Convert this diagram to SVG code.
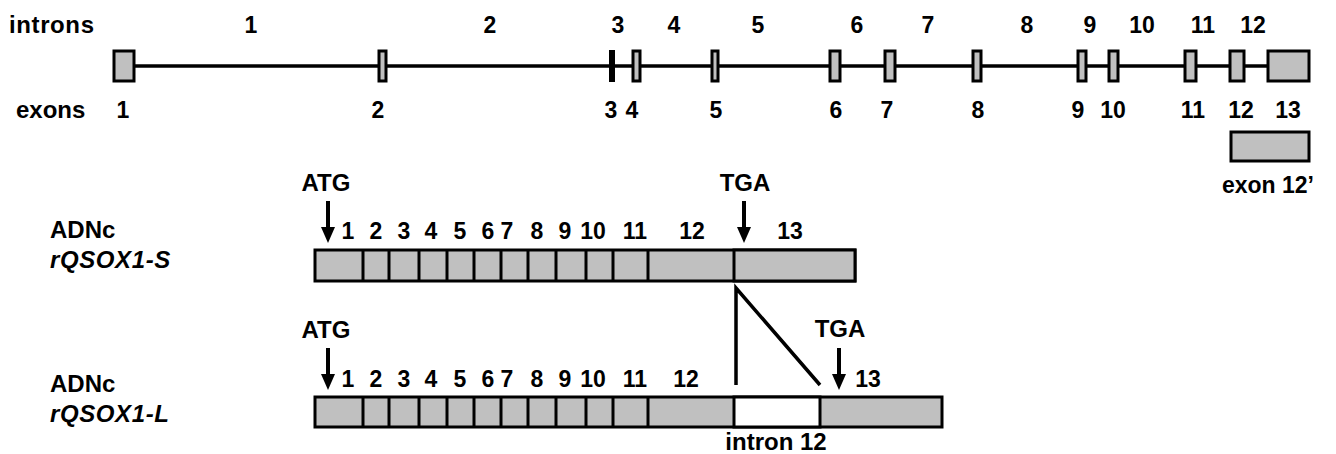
<svg xmlns="http://www.w3.org/2000/svg" width="1336" height="454" viewBox="0 0 1336 454">
<style>
text{font-family:"Liberation Sans",Arial,sans-serif;font-weight:bold;font-size:23px;fill:#000}
.wd{font-size:24px}
.c{text-anchor:middle}
.i{font-style:italic;letter-spacing:0.6px}
.ex{fill:#c0c0c0;stroke:#000;stroke-width:3}
.w{fill:#fff;stroke:#000;stroke-width:3}
.ln{stroke:#000;stroke-width:3;fill:none}
.gl{stroke:#000;stroke-width:3.5;fill:none}
.ar{stroke:#000;stroke-width:4;fill:none}
</style>
<defs>
<marker id="ah" markerUnits="userSpaceOnUse" markerWidth="16" markerHeight="14" refX="2" refY="7" orient="auto" viewBox="0 0 16 14">
<path d="M0,0 L16,7 L0,14 Z" fill="#000"/>
</marker>
</defs>

<g id="gene">
<line class="gl" x1="124" y1="66" x2="1290" y2="66"/>
<rect class="ex" x="114" y="51" width="20" height="30"/>
<rect class="ex" x="379" y="51" width="7" height="30"/>
<rect x="609" y="50" width="6" height="32" fill="#000"/>
<rect class="ex" x="633" y="51" width="7" height="30"/>
<rect class="ex" x="712" y="51" width="6" height="30"/>
<rect class="ex" x="830" y="51" width="10" height="30"/>
<rect class="ex" x="885" y="51" width="10" height="30"/>
<rect class="ex" x="973" y="51" width="8" height="30"/>
<rect class="ex" x="1078" y="51" width="8" height="30"/>
<rect class="ex" x="1109" y="51" width="9" height="30"/>
<rect class="ex" x="1185" y="51" width="11" height="30"/>
<rect class="ex" x="1230" y="51" width="14" height="30"/>
<rect class="ex" x="1268" y="51" width="41" height="30"/>
</g>

<g id="intron-labels">
<text class="wd" x="9" y="33" textLength="85">introns</text>
<text class="c" x="251" y="33">1</text>
<text class="c" x="490" y="33">2</text>
<text class="c" x="618" y="33">3</text>
<text class="c" x="674" y="33">4</text>
<text class="c" x="758" y="33">5</text>
<text class="c" x="857" y="33">6</text>
<text class="c" x="928" y="33">7</text>
<text class="c" x="1027" y="33">8</text>
<text class="c" x="1090" y="33">9</text>
<text class="c" x="1142" y="33">10</text>
<text class="c" x="1203" y="33">11</text>
<text class="c" x="1253" y="33">12</text>
</g>

<g id="exon-labels">
<text class="wd" x="16" y="118">exons</text>
<text class="c" x="123" y="118">1</text>
<text class="c" x="378" y="118">2</text>
<text class="c" x="611" y="118">3</text>
<text class="c" x="632" y="118">4</text>
<text class="c" x="716" y="118">5</text>
<text class="c" x="836" y="118">6</text>
<text class="c" x="887" y="118">7</text>
<text class="c" x="978" y="118">8</text>
<text class="c" x="1078" y="118">9</text>
<text class="c" x="1113" y="118">10</text>
<text class="c" x="1193" y="118">11</text>
<text class="c" x="1241" y="118">12</text>
<text class="c" x="1288" y="118">13</text>
</g>

<g id="exon12prime">
<rect class="ex" x="1231" y="132" width="78" height="29"/>
<text class="c" x="1268" y="193">exon 12’</text>
</g>

<g id="cdna-S">
<text class="wd" x="50" y="238">ADNc</text>
<text class="wd i" x="50" y="268">rQSOX1-S</text>
<text class="wd c" x="326" y="191">ATG</text>
<text class="wd c" x="745" y="191">TGA</text>
<rect class="ex" x="315" y="250" width="540" height="31"/>
<rect class="ex" x="734" y="250" width="121" height="31"/>
<path class="ln" d="M363,250V281M389,250V281M419,250V281M447,250V281M474,250V281M501,250V281M528,250V281M556,250V281M586,250V281M613,250V281M648,250V281"/>
<text class="c" x="348" y="239">1</text>
<text class="c" x="376" y="239">2</text>
<text class="c" x="404" y="239">3</text>
<text class="c" x="431" y="239">4</text>
<text class="c" x="460" y="239">5</text>
<text class="c" x="488" y="239">6</text>
<text class="c" x="507" y="239">7</text>
<text class="c" x="537" y="239">8</text>
<text class="c" x="565" y="239">9</text>
<text class="c" x="593" y="239">10</text>
<text class="c" x="635" y="239">11</text>
<text class="c" x="692" y="239">12</text>
<text class="c" x="790" y="239">13</text>
</g>

<g id="cdna-L">
<text class="wd" x="50" y="392">ADNc</text>
<text class="wd i" x="50" y="422">rQSOX1-L</text>
<text class="wd c" x="326" y="338">ATG</text>
<text class="wd c" x="840" y="337">TGA</text>
<rect class="ex" x="315" y="397" width="627" height="30"/>
<rect class="w" x="734" y="397" width="86" height="30"/>
<path class="ln" d="M363,397V427M389,397V427M419,397V427M447,397V427M474,397V427M501,397V427M528,397V427M556,397V427M586,397V427M613,397V427M648,397V427"/>
<text class="c" x="348" y="387">1</text>
<text class="c" x="376" y="387">2</text>
<text class="c" x="404" y="387">3</text>
<text class="c" x="431" y="387">4</text>
<text class="c" x="460" y="387">5</text>
<text class="c" x="488" y="387">6</text>
<text class="c" x="507" y="387">7</text>
<text class="c" x="537" y="387">8</text>
<text class="c" x="565" y="387">9</text>
<text class="c" x="593" y="387">10</text>
<text class="c" x="635" y="387">11</text>
<text class="c" x="686" y="387">12</text>
<text class="c" x="868" y="387">13</text>
<text class="wd c" x="776" y="450">intron 12</text>
</g>

<g id="connectors">
<line class="ar" x1="328" y1="201" x2="328" y2="229" marker-end="url(#ah)"/>
<line class="ar" x1="744" y1="201" x2="744" y2="229" marker-end="url(#ah)"/>
<line class="ar" x1="328" y1="348" x2="328" y2="376" marker-end="url(#ah)"/>
<line class="ar" x1="839" y1="348" x2="839" y2="376" marker-end="url(#ah)"/>
<path class="gl" d="M736,385V288L820,385"/>
</g>
</svg>
